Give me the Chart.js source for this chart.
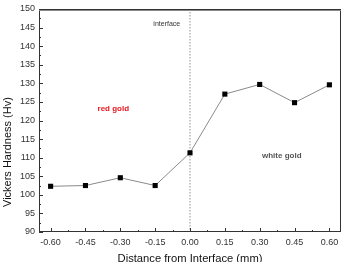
<!DOCTYPE html>
<html lang="en">
<head>
    <meta charset="UTF-8">
    <title>Vickers Hardness vs Distance from Interface</title>
    <style>
        html, body {
            margin: 0;
            padding: 0;
            background: #fff;
        }
        .chart-box {
            width: 342px;
            height: 262px;
        }
    </style>
</head>
<body>

<div class="chart-box">
    <canvas id="hardnessChart" width="342" height="262"></canvas>
</div>

<script src="https://cdn.jsdelivr.net/npm/chart.js"></script>
<script>
    // Данные
    const distances = [-0.60, -0.45, -0.30, -0.15, 0.00, 0.15, 0.30, 0.45, 0.60];
    const hardness = [102.3, 102.5, 104.6, 102.5, 111.3, 127.1, 129.7, 124.8, 129.6];
    const xTickValues = [-0.60, -0.45, -0.30, -0.15, 0.00, 0.15, 0.30, 0.45, 0.60];
    const yTickValues = [90, 95, 100, 105, 110, 115, 120, 125, 130, 135, 140, 145, 150];
    const yAxisTitle = 'Vickers Hardness (Hv)';

    const labelFont = 'Arial, "Liberation Sans", sans-serif';

    // Рамка, внутренние засечки, линия интерфейса и подписи
    const framePlugin = {
        id: 'framePlugin',
        beforeDatasetsDraw(chart) {
            const ctx = chart.ctx;
            const xs = chart.scales.x;
            const area = chart.chartArea;
            ctx.save();
            // пунктир на 0.00
            const x0 = xs.getPixelForValue(0);
            ctx.strokeStyle = '#777';
            ctx.lineWidth = 0.8;
            ctx.setLineDash([1.5, 1.5]);
            ctx.beginPath();
            ctx.moveTo(x0, area.top);
            ctx.lineTo(x0, area.bottom);
            ctx.stroke();
            ctx.restore();
        },
        afterDraw(chart) {
            const ctx = chart.ctx;
            const xs = chart.scales.x;
            const ys = chart.scales.y;
            const area = chart.chartArea;
            ctx.save();
            ctx.strokeStyle = '#333';
            ctx.lineWidth = 1;
            ctx.strokeRect(area.left + 0.5, area.top + 0.5, area.right - area.left - 1, area.bottom - area.top - 1);
            ctx.strokeStyle = '#888';
            ctx.beginPath();
            ctx.moveTo(area.left, area.top + 1.5);
            ctx.lineTo(area.right, area.top + 1.5);
            ctx.stroke();

            // засечки внутрь
            ctx.strokeStyle = '#333';
            ctx.beginPath();
            xTickValues.forEach((v, i) => {
                const px = Math.round(xs.getPixelForValue(v)) + 0.5;
                ctx.moveTo(px, area.bottom);
                ctx.lineTo(px, area.bottom - 4);
                if (i < xTickValues.length - 1) {
                    const mx = Math.round(xs.getPixelForValue((v + xTickValues[i + 1]) / 2)) + 0.5;
                    ctx.moveTo(mx, area.bottom);
                    ctx.lineTo(mx, area.bottom - 2);
                }
            });
            yTickValues.forEach((v, i) => {
                const py = Math.round(ys.getPixelForValue(v)) + 0.5;
                ctx.moveTo(area.left, py);
                ctx.lineTo(area.left + 4, py);
                if (i < yTickValues.length - 1) {
                    const my = Math.round(ys.getPixelForValue((v + yTickValues[i + 1]) / 2)) + 0.5;
                    ctx.moveTo(area.left, my);
                    ctx.lineTo(area.left + 2, my);
                }
            });
            ctx.stroke();

            // подпись оси Y
            ctx.save();
            ctx.translate(8, ys.getPixelForValue(111.5));
            ctx.rotate(-Math.PI / 2);
            ctx.textAlign = 'center';
            ctx.textBaseline = 'middle';
            ctx.fillStyle = '#111';
            ctx.font = '11px ' + labelFont;
            ctx.fillText(yAxisTitle, 0, 0);
            ctx.restore();

            // подписи
            ctx.textAlign = 'center';
            ctx.textBaseline = 'middle';
            ctx.fillStyle = '#333';
            ctx.font = '7px ' + labelFont;
            ctx.fillText('interface', xs.getPixelForValue(-0.10), ys.getPixelForValue(146));
            ctx.fillStyle = '#e8141e';
            ctx.font = 'bold 8px ' + labelFont;
            ctx.fillText('red gold', xs.getPixelForValue(-0.33), ys.getPixelForValue(123.1));
            ctx.fillStyle = '#555';
            ctx.fillText('white gold', xs.getPixelForValue(0.395), ys.getPixelForValue(110.5));
            ctx.restore();
        }
    };

    const ctx = document.getElementById('hardnessChart').getContext('2d');
    const hardnessChart = new Chart(ctx, {
        type: 'line',
        data: {
            datasets: [{
                label: 'Vickers Hardness',
                data: distances.map((d, i) => ({ x: d, y: hardness[i] })),
                borderColor: '#8a8a8a',
                borderWidth: 1,
                pointStyle: 'rect',
                pointRadius: 3.6,
                pointBackgroundColor: '#000',
                pointBorderColor: '#000',
                pointBorderWidth: 0,
                fill: false,
                tension: 0
            }]
        },
        options: {
            responsive: false,
            animation: false,
            layout: {
                autoPadding: false,
                padding: { top: 9, right: 1, left: 0, bottom: 0 }
            },
            plugins: {
                legend: { display: false },
                tooltip: { enabled: false }
            },
            scales: {
                x: {
                    type: 'linear',
                    min: -0.65,
                    max: 0.65,
                    afterBuildTicks(scale) {
                        scale.ticks = xTickValues.map(v => ({ value: v }));
                    },
                    afterFit(scale) {
                        scale.height = 30;
                        scale.paddingLeft = 0;
                        scale.paddingRight = 0;
                    },
                    grid: { display: false, drawTicks: false },
                    border: { display: false },
                    ticks: {
                        padding: 5,
                        color: '#333',
                        font: { family: labelFont, size: 9 },
                        maxRotation: 0,
                        callback: v => Number(v).toFixed(2)
                    },
                    title: {
                        display: true,
                        text: 'Distance from Interface (mm)',
                        color: '#111',
                        font: { family: labelFont, size: 11.2 },
                        padding: { top: 4, bottom: -4 }
                    }
                },
                y: {
                    min: 90,
                    max: 150,
                    afterBuildTicks(scale) {
                        scale.ticks = yTickValues.map(v => ({ value: v }));
                    },
                    afterFit(scale) {
                        scale.width = 39;
                        scale.paddingTop = 0;
                        scale.paddingBottom = 0;
                    },
                    grid: { display: false, drawTicks: false },
                    border: { display: false },
                    ticks: {
                        padding: 4,
                        color: '#333',
                        font: { family: labelFont, size: 9 }
                    }
                }
            }
        },
        plugins: [framePlugin]
    });
</script>

</body>
</html>
